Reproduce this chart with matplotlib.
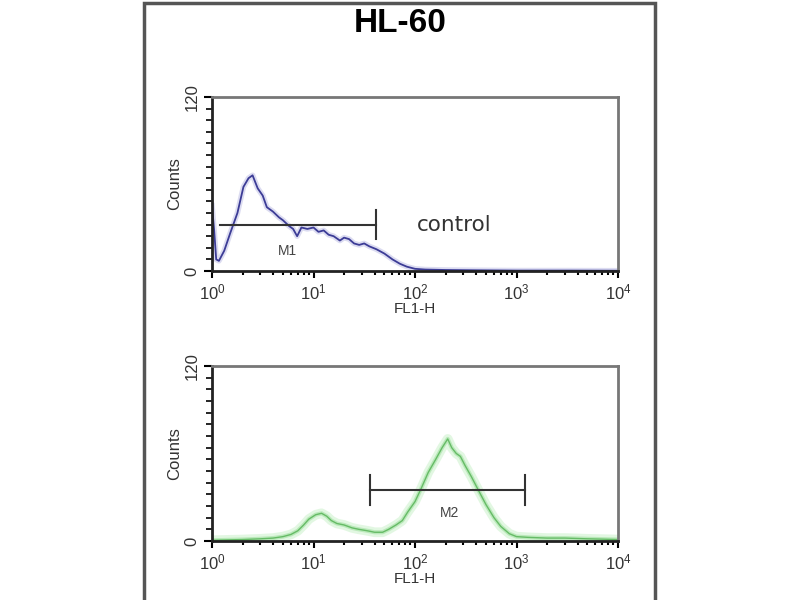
"""
Flow cytometry histograms for HL-60 (control vs stained)
"""
import matplotlib
matplotlib.use("Agg")
import matplotlib.pyplot as plt
import matplotlib.ticker as mticker
from matplotlib.patches import Rectangle

plt.rcParams['font.family'] = ['Liberation Sans', 'DejaVu Sans']
plt.rcParams['mathtext.fontset'] = 'custom'
plt.rcParams['mathtext.rm'] = 'Liberation Sans'

title = "HL-60"

# control histogram (FL1-H, counts)
ctrl_fl = [1.0, 1.05, 1.10, 1.17, 1.32, 1.51, 1.78, 2.04, 2.29, 2.51, 2.82, 3.16,
           3.47, 3.98, 4.57, 5.0, 5.75, 6.3, 6.9, 7.6, 8.7, 10, 11.2, 12.6, 14.1,
           15.8, 18.2, 20.0, 22.4, 25.1, 28.2, 31.6, 35.5, 41.7, 50, 60, 71, 83,
           100, 126, 200, 400, 1000, 3162, 10000]
ctrl_counts = [45, 28, 8, 7, 14, 26, 40, 58, 64, 66, 57, 52,
               44, 41, 37, 35, 31, 29, 24, 30, 29, 30, 27, 28, 25,
               24, 21, 23, 22, 19, 18, 19, 17, 15, 12, 8, 5, 3,
               1.5, 1, 0.7, 0.5, 0.3, 0.3, 0.2]

# stained histogram
stain_fl = [1.0, 1.5, 2.0, 3.0, 4.0, 5.0, 6.0, 7.0, 8.0, 9.0, 10.5, 12.0, 13.5,
            15, 17, 20, 24, 28, 34, 40, 48, 55, 65, 75, 85, 100, 115, 135, 160,
            185, 210, 230, 255, 280, 310, 360, 420, 500, 600, 700, 850, 1000,
            1300, 2000, 3000, 5000, 10000]
stain_counts = [0.5, 0.8, 1.0, 1.5, 2.0, 3.0, 4.5, 7, 11, 15, 18, 19, 17,
                14, 12, 11, 9, 8, 7, 6, 6, 8, 11, 14, 20, 27, 36, 47, 56,
                64, 70, 64, 60, 58, 52, 44, 35, 25, 16, 10, 5, 3,
                2.5, 2, 2, 1.5, 1]

# markers: (start, end, level, label, label position)
m1 = (1.2, 41.5, 32, "M1", (5.5, 14))
m2 = (36, 1200, 35, "M2", (220, 19))

fig = plt.figure(figsize=(8, 6), dpi=100)

# outer frame
fig.patches.append(Rectangle((144 / 800, -0.05), (655 - 144) / 800, 1.05 - 3 / 600,
                             transform=fig.transFigure, fill=False,
                             edgecolor='#555555', linewidth=2.5))
fig.text(400 / 800, 1 - 24 / 600, title, ha='center', va='center',
         fontsize=24, fontweight='bold')


def style_axes(ax):
    ax.set_xscale('log')
    ax.set_xlim(1, 1e4)
    ax.set_ylim(0, 120)
    ax.set_yticks([0, 120])
    ax.yaxis.set_minor_locator(mticker.MultipleLocator(8))
    ax.xaxis.set_major_locator(mticker.LogLocator(base=10, numticks=10))
    ax.xaxis.set_minor_locator(mticker.LogLocator(base=10, subs=range(2, 10), numticks=10))
    ax.xaxis.set_minor_formatter(mticker.NullFormatter())
    for lbl in ax.get_yticklabels():
        lbl.set_rotation(90)
        lbl.set_va('center')
    ax.tick_params(axis='y', which='major', labelsize=12, labelcolor='#333333',
                   length=6, width=1.5, pad=3)
    ax.tick_params(axis='y', which='minor', length=4, width=1.2)
    ax.tick_params(axis='x', which='major', labelsize=12, labelcolor='#333333',
                   length=5, width=1.5, pad=3)
    ax.tick_params(axis='x', which='minor', length=3, width=1.5)
    for side in ['top', 'right']:
        ax.spines[side].set_color('#777777')
        ax.spines[side].set_linewidth(2)
    for side in ['left', 'bottom']:
        ax.spines[side].set_color('#222222')
        ax.spines[side].set_linewidth(2)
    ax.set_xlabel('FL1-H', fontsize=11, labelpad=0, color='#333333')
    ax.set_ylabel('Counts', fontsize=12, labelpad=2, color='#333333')


def draw_marker(ax, m):
    x0, x1, y, name, (lx, ly) = m
    ax.plot([x0, x1], [y, y], color='#333333', lw=1.5)
    ax.plot([x1, x1], [y - 10, y + 10], color='#333333', lw=1.5)
    if x0 > 1.5:
        ax.plot([x0, x0], [y - 10, y + 10], color='#333333', lw=1.5)
    ax.text(lx, ly, name, ha='center', va='center', fontsize=10, color='#444444')


# top: control
ax1 = fig.add_axes([212 / 800, 1 - 271 / 600, 406 / 800, 174 / 600])
style_axes(ax1)
ax1.plot(ctrl_fl, ctrl_counts, color='#a8a8dc', lw=4, alpha=0.4)
ax1.plot(ctrl_fl, ctrl_counts, color='#3c3c96', lw=1.3)
draw_marker(ax1, m1)
ax1.text(105, 32, 'control', ha='left', va='center', fontsize=15.5,
         family='DejaVu Sans', color='#333333')

# bottom: stained
ax2 = fig.add_axes([212 / 800, 1 - 541 / 600, 406 / 800, 175 / 600])
style_axes(ax2)
ax2.plot(stain_fl, stain_counts, color='#c6f0c6', lw=7, alpha=0.5)
ax2.plot(stain_fl, stain_counts, color='#a0e0a0', lw=3, alpha=0.6)
ax2.plot(stain_fl, stain_counts, color='#66bb66', lw=1.0)
draw_marker(ax2, m2)

fig.savefig('out.png', dpi=100)
